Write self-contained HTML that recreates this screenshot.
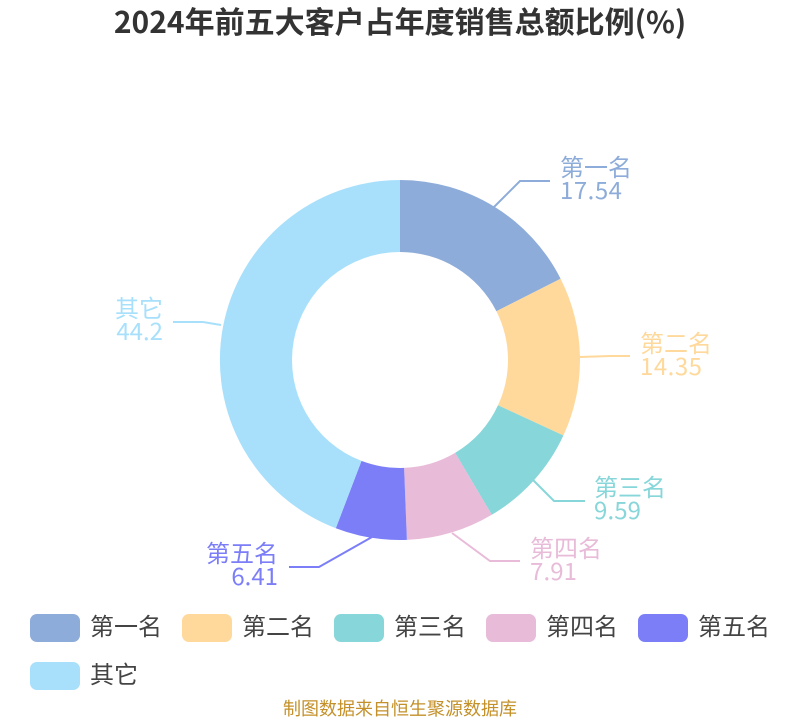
<!DOCTYPE html>
<html><head><meta charset="utf-8"><style>
html,body{margin:0;padding:0;background:#fff}
svg{display:block}
text{font-family:"Noto Sans CJK SC","Liberation Sans",sans-serif}
.l{font-size:24px}
.leg{font-size:24px;fill:#444}
</style></head><body>
<svg width="800" height="720" viewBox="0 0 800 720" xmlns="http://www.w3.org/2000/svg">
<rect width="800" height="720" fill="#fff"/>
<text x="400" y="33" text-anchor="middle" font-size="30" font-weight="bold" fill="#333">2024年前五大客户占年度销售总额比例(%)</text>
<path d="M400 180A180 180 0 0 1 560.6 278.7L496.4 311.2A108 108 0 0 0 400 252Z" fill="#8eacd9"/>
<path d="M560.6 278.7A180 180 0 0 1 563.4 435.5L498 405.3A108 108 0 0 0 496.4 311.2Z" fill="#ffd99c"/>
<path d="M563.4 435.5A180 180 0 0 1 491.8 514.8L455.1 452.9A108 108 0 0 0 498 405.3Z" fill="#87d6d9"/>
<path d="M491.8 514.8A180 180 0 0 1 406.9 539.9L404.1 467.9A108 108 0 0 0 455.1 452.9Z" fill="#e8bbd9"/>
<path d="M406.9 539.9A180 180 0 0 1 335.8 528.2L361.5 460.9A108 108 0 0 0 404.1 467.9Z" fill="#7c7ef8"/>
<path d="M335.8 528.2A180 180 0 0 1 400 180L400 252A108 108 0 0 0 361.5 460.9Z" fill="#a8e0fc"/>
<g fill="none" stroke-width="2">
<path d="M494 207L520 181L550 181" stroke="#8eacd9"/>
<path d="M580 357L610 356L630 356" stroke="#ffd99c"/>
<path d="M533 480L554 501L585 501" stroke="#87d6d9"/>
<path d="M452 533L490 561L520 561" stroke="#e8bbd9"/>
<path d="M372 537L319 567L289 567" stroke="#7c7ef8"/>
<path d="M221 325L203 322L173 322" stroke="#a8e0fc"/>
</g>
<text class="l" x="560" y="176" fill="#8eacd9">第一名</text>
<text class="l" x="560" y="199" fill="#8eacd9" textLength="62">17.54</text>
<text class="l" x="640" y="352" fill="#ffd99c">第二名</text>
<text class="l" x="640" y="375" fill="#ffd99c" textLength="62">14.35</text>
<text class="l" x="594" y="496" fill="#87d6d9">第三名</text>
<text class="l" x="594" y="519" fill="#87d6d9" textLength="47">9.59</text>
<text class="l" x="530" y="557" fill="#e8bbd9">第四名</text>
<text class="l" x="530" y="580" fill="#e8bbd9" textLength="47">7.91</text>
<text class="l" x="278" y="562" text-anchor="end" fill="#7c7ef8">第五名</text>
<text class="l" x="278" y="585" text-anchor="end" fill="#7c7ef8">6.41</text>
<text class="l" x="163" y="317" text-anchor="end" fill="#a8e0fc">其它</text>
<text class="l" x="163" y="340" text-anchor="end" fill="#a8e0fc">44.2</text>
<rect x="30" y="614" width="50" height="28" rx="7" fill="#8eacd9"/>
<rect x="182" y="614" width="50" height="28" rx="7" fill="#ffd99c"/>
<rect x="334" y="614" width="50" height="28" rx="7" fill="#87d6d9"/>
<rect x="486" y="614" width="50" height="28" rx="7" fill="#e8bbd9"/>
<rect x="638" y="614" width="50" height="28" rx="7" fill="#7c7ef8"/>
<rect x="30" y="662" width="50" height="28" rx="7" fill="#a8e0fc"/>
<text class="leg" x="90" y="635">第一名</text>
<text class="leg" x="242" y="635">第二名</text>
<text class="leg" x="394" y="635">第三名</text>
<text class="leg" x="546" y="635">第四名</text>
<text class="leg" x="698" y="635">第五名</text>
<text class="leg" x="90" y="683">其它</text>
<text x="400" y="715" text-anchor="middle" font-size="18" fill="#c4902a">制图数据来自恒生聚源数据库</text>
</svg>
</body></html>
